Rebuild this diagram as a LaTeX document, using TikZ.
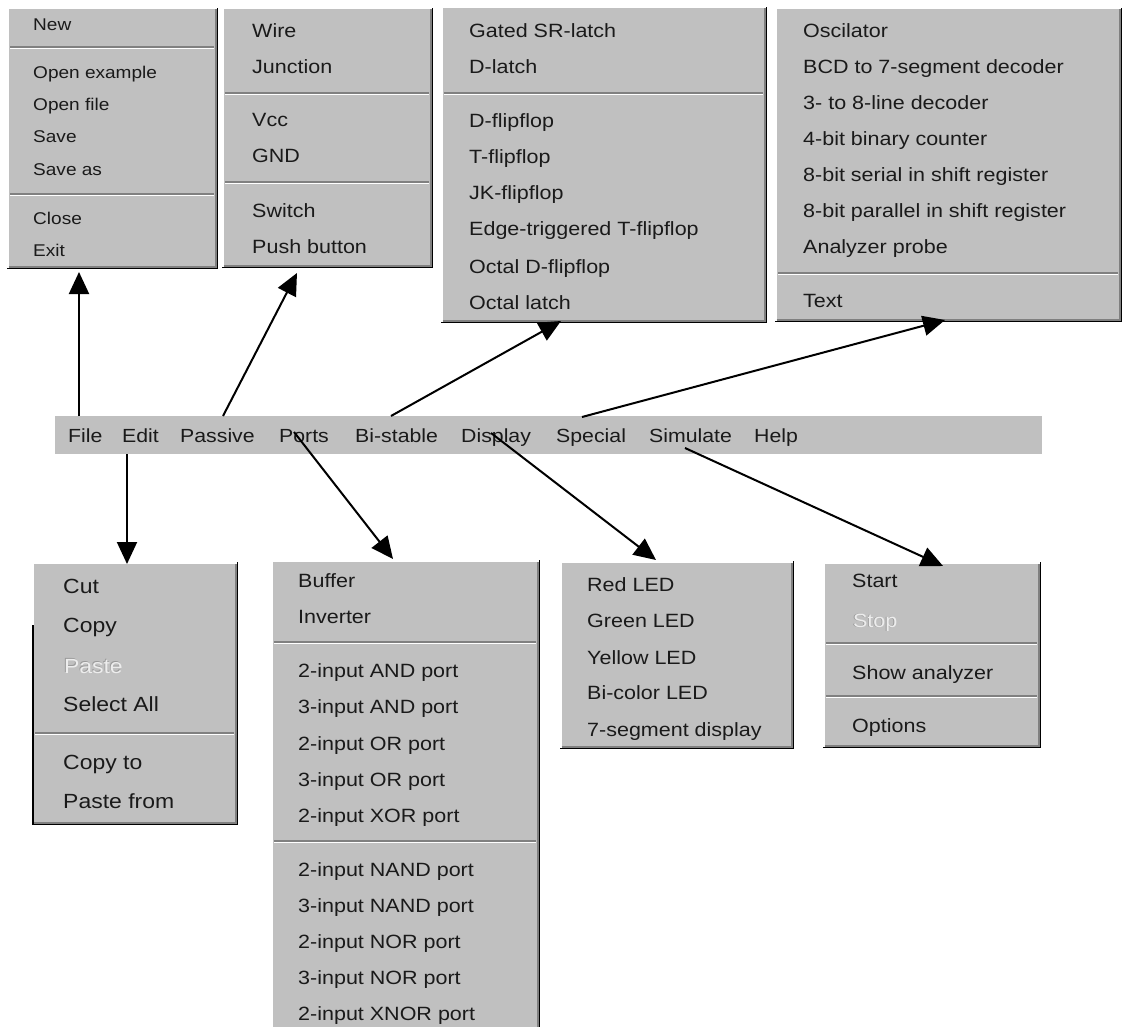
\documentclass[tikz,border=0pt]{standalone}
\usepackage{fontspec}
\setmainfont{Liberation Sans}[FakeStretch=1.12]
\usetikzlibrary{arrows.meta}
\definecolor{menugray}{HTML}{C0C0C0}
\definecolor{txt}{HTML}{1A1A1A}
\definecolor{shadowgray}{HTML}{808080}
\definecolor{disgray}{HTML}{9A9A9A}
\definecolor{dislight}{HTML}{EDEDED}
\newcommand\bevel[1]{%
  \draw[white,line width=1.5pt] ([xshift=.75pt]#1.south west) -- ([xshift=.75pt,yshift=-.75pt]#1.north west) -- ([yshift=-.75pt]#1.north east);
  \draw[shadowgray,line width=1.5pt] ([xshift=1.5pt,yshift=2.25pt]#1.south west) -- ([xshift=-2.25pt,yshift=2.25pt]#1.south east) -- ([xshift=-2.25pt,yshift=-1.5pt]#1.north east);
  \draw[black,line width=1.5pt] ([yshift=.75pt]#1.south west) -- ([xshift=-.75pt,yshift=.75pt]#1.south east) -- ([xshift=-.75pt]#1.north east);
}
\newcommand\msep[3]{%
  \draw[shadowgray,line width=1.3pt] ({#1+3},#3) -- ({#2-4},#3);
  \draw[white,line width=1.3pt] ({#1+3},{#3+1.3}) -- ({#2-4},{#3+1.3});
}
\begin{document}
\begin{tikzpicture}[x=1pt,y=-1pt,
  menubox/.style={fill=menugray,inner sep=0pt,outer sep=0pt,anchor=north west},
  item/.style={anchor=base west,inner sep=0pt,text=txt,font=\fontsize{19.2}{20}\selectfont},
  fileitem/.style={item,font=\fontsize{17}{18}\selectfont},
  edititem/.style={item,font=\fontsize{20.5}{21}\selectfont},
  baritem/.style={item,font=\fontsize{19}{20}\selectfont},
  arr/.style={line width=2pt,black,-{Triangle[length=22pt,width=20pt]}}]
\useasboundingbox (0,0) rectangle (1130,1027);
\clip (0,0) rectangle (1130,1027);
\fill[white] (0,0) rectangle (1130,1027);

% ---------- menus ----------
\node[menubox,minimum width=211pt,minimum height=261pt] (filemenu) at (7,8) {};
\node[menubox,minimum width=211pt,minimum height=260pt] (passmenu) at (222,8) {};
\node[menubox,minimum width=326pt,minimum height=316pt] (bistmenu) at (441,7) {};
\node[menubox,minimum width=347pt,minimum height=314pt] (specmenu) at (775,8) {};
\node[menubox,minimum width=987pt,minimum height=38pt] (bar) at (55,416) {};
\node[menubox,minimum width=206pt,minimum height=263pt] (editmenu) at (32,562) {};
\node[menubox,minimum width=269pt,minimum height=480pt] (portmenu) at (271,560) {};
\node[menubox,minimum width=234pt,minimum height=188pt] (dispmenu) at (560,561) {};
\node[menubox,minimum width=218pt,minimum height=186pt] (simmenu) at (823,562) {};
\bevel{filemenu}\bevel{passmenu}\bevel{bistmenu}\bevel{specmenu}
\bevel{editmenu}\bevel{portmenu}\bevel{dispmenu}\bevel{simmenu}
\draw[black,line width=1.5pt] (32.75,625) -- (32.75,824);

% separators
\msep{7}{218}{47}\msep{7}{218}{194}
\msep{222}{433}{93}\msep{222}{433}{182}
\msep{441}{767}{93}
\msep{775}{1122}{273}
\msep{32}{238}{733}
\msep{271}{540}{642}\msep{271}{540}{841}
\msep{823}{1041}{643}\msep{823}{1041}{696}

% ---------- menu texts ----------
\foreach \t/\y [count=\i] in {New/25,Open example/73,Open file/105,Save/137,Save as/170,Close/219,Exit/251}
  \node[fileitem] (file\i) at (33,\y+6) {\t};
\foreach \t/\y [count=\i] in {Wire/31,Junction/67,Vcc/120,GND/156,Switch/211,Push button/247}
  \node[item] (pass\i) at (252,\y+7) {\t};
\foreach \t/\y [count=\i] in {Gated SR-latch/31,D-latch/67,D-flipflop/121,T-flipflop/157,JK-flipflop/193,Edge-triggered T-flipflop/229,Octal D-flipflop/266,Octal latch/302}
  \node[item] (bist\i) at (469,\y+7) {\t};
\foreach \t/\y [count=\i] in {Oscilator/31,BCD to 7-segment decoder/67,3- to 8-line decoder/103,4-bit binary counter/139,8-bit serial in shift register/175,8-bit parallel in shift register/211,Analyzer probe/247,Text/300}
  \node[item] (spec\i) at (803,\y+7) {\t};
\foreach \t/\x [count=\i] in {File/68,Edit/122,Passive/180,Ports/279,Bi-stable/355,Display/461,Special/556,Simulate/649,Help/754}
  \node[baritem] (bar\i) at (\x,442) {\t};
\foreach \t/\y [count=\i] in {Cut/586,Copy/625,Select All/704,Copy to/762,Paste from/801}
  \node[edititem] (edit\i) at (63,\y+7.3) {\t};
\node[edititem,text=disgray] (pasteshadow) at (63,672.3) {Paste};
\node[edititem,text=dislight] (paste) at (63.8,673.1) {Paste};
\foreach \t/\y [count=\i] in {Buffer/580.7,Inverter/616.7,2-input AND port/670.7,3-input AND port/706.7,2-input OR port/743,3-input OR port/779,2-input XOR port/815,2-input NAND port/869,3-input NAND port/905,2-input NOR port/941,3-input NOR port/977,2-input XNOR port/1013}
  \node[item] (port\i) at (298,\y+7) {\t};
\foreach \t/\y [count=\i] in {Red LED/584,Green LED/620,Yellow LED/657,Bi-color LED/692,7-segment display/729}
  \node[item] (disp\i) at (587,\y+7) {\t};
\foreach \t/\y [count=\i] in {Start/580.7,Show analyzer/672,Options/725}
  \node[item] (sim\i) at (852,\y+7) {\t};
\node[item,text=disgray] (stopshadow) at (852,627) {Stop};
\node[item,text=dislight] (stop) at (852.8,627.8) {Stop};

% ---------- connectors ----------
\coordinate (sFile) at (79,416);   \coordinate (eFile) at (79,272);
\coordinate (sPass) at (223,416);  \coordinate (ePass) at (297,273);
\coordinate (sBist) at (391,416);  \coordinate (eBist) at (561,321);
\coordinate (sSpec) at (582,417);  \coordinate (eSpec) at (945,320);
\coordinate (sEdit) at (127,454);  \coordinate (eEdit) at (127,564);
\coordinate (sPort) at (294,432);  \coordinate (ePort) at (393,559);
\coordinate (sDisp) at (491,433);  \coordinate (eDisp) at (656,560);
\coordinate (sSim)  at (685,448);  \coordinate (eSim)  at (943,566);
\draw[arr] (sFile) -- (eFile);
\draw[arr] (sPass) -- (ePass);
\draw[arr] (sBist) -- (eBist);
\draw[arr] (sSpec) -- (eSpec);
\draw[arr] (sEdit) -- (eEdit);
\draw[arr] (sPort) -- (ePort);
\draw[arr] (sDisp) -- (eDisp);
\draw[arr] (sSim) -- (eSim);
\end{tikzpicture}
\end{document}
